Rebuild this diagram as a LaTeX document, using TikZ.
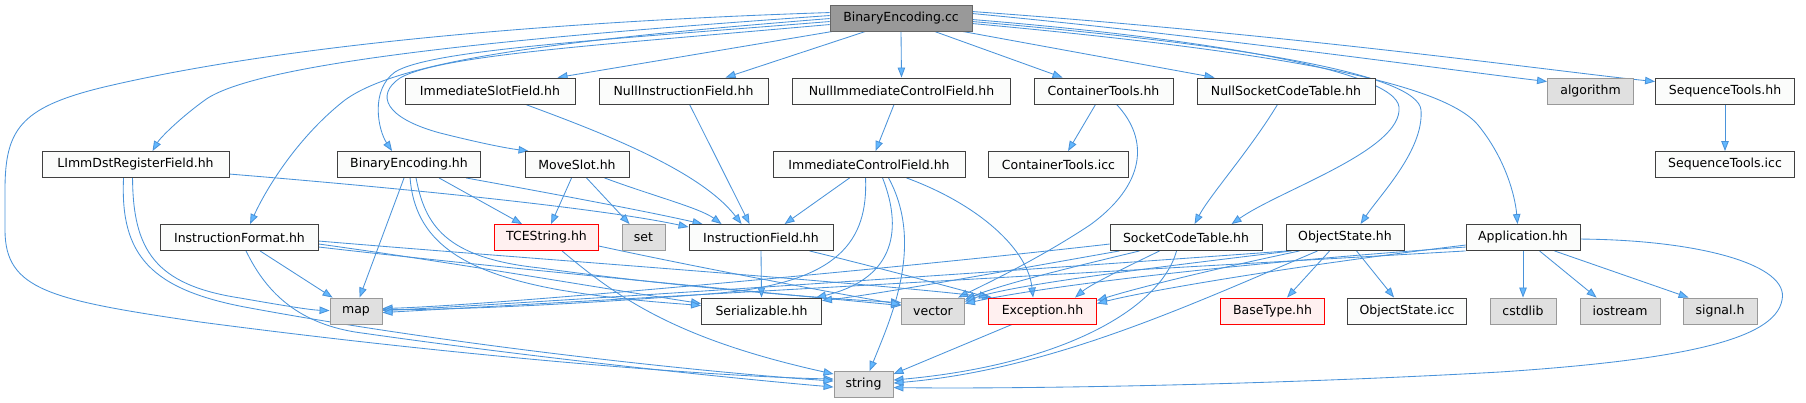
\documentclass[tikz,border=0pt]{standalone}
\usepackage{fontspec}
\setmainfont{DejaVu Sans}
\usetikzlibrary{arrows.meta}
\definecolor{edgec}{HTML}{4A93DA}
\definecolor{arrfill}{HTML}{63B8FF}
\definecolor{mainfill}{HTML}{999999}
\definecolor{maindraw}{HTML}{666666}
\definecolor{nfill}{HTML}{FBFCFB}
\definecolor{ndraw}{HTML}{404040}
\definecolor{sysfill}{HTML}{E0E0E0}
\definecolor{sysdraw}{HTML}{999999}
\definecolor{trfill}{HTML}{FFF0F0}
\definecolor{trdraw}{HTML}{FF0000}
\newcommand{\nfs}{\fontsize{12.5}{15}\selectfont}
\pgfdeclarelayer{bg}
\pgfsetlayers{bg,main}
\tikzset{
  nd/.style={draw=ndraw, fill=nfill, line width=0.9pt, minimum height=26pt, inner sep=0pt, font=\nfs, text=black},
  sys/.style={nd, draw=sysdraw, fill=sysfill},
  trunc/.style={nd, draw=trdraw, fill=trfill},
  mainn/.style={nd, draw=maindraw, fill=mainfill},
  e/.style={draw=edgec, line width=0.85pt, -{Triangle[length=10pt,width=7.5pt,fill=arrfill]}}
}
\begin{document}
\begin{tikzpicture}[x=1pt,y=-1pt]
\useasboundingbox (0,0) rectangle (1806,403);
% nodes
\node[mainn, minimum width=142pt] (main) at (901,18) {BinaryEncoding.cc};
\node[nd, minimum width=170pt] (ISF) at (490,91) {ImmediateSlotField.hh};
\node[nd, minimum width=169pt] (NIF) at (683.5,91) {NullInstructionField.hh};
\node[nd, minimum width=218pt] (NICF) at (901.5,91) {NullImmediateControlField.hh};
\node[nd, minimum width=139pt] (CT) at (1103.5,91) {ContainerTools.hh};
\node[nd, minimum width=178pt] (NSCT) at (1286,91) {NullSocketCodeTable.hh};
\node[sys, minimum width=86pt] (alg) at (1590.5,91) {algorithm};
\node[nd, minimum width=139pt] (STH) at (1725,91) {SequenceTools.hh};
\node[nd, minimum width=187pt] (LImm) at (135.5,164.5) {LImmDstRegisterField.hh};
\node[nd, minimum width=143pt] (BEH) at (409,164.5) {BinaryEncoding.hh};
\node[nd, minimum width=104pt] (MS) at (577,164.5) {MoveSlot.hh};
\node[nd, minimum width=192pt] (ICF) at (869,164.5) {ImmediateControlField.hh};
\node[nd, minimum width=140pt] (CTI) at (1058.5,164.5) {ContainerTools.icc};
\node[nd, minimum width=139pt] (STI) at (1725,164.5) {SequenceTools.icc};
\node[nd, minimum width=158pt] (IFmt) at (239.5,237.5) {InstructionFormat.hh};
\node[trunc, minimum width=104pt] (TCE) at (546.5,237.5) {TCEString.hh};
\node[sys, minimum width=43pt] (set) at (643.5,237.5) {set};
\node[nd, minimum width=144pt] (IF) at (761,237.5) {InstructionField.hh};
\node[nd, minimum width=152pt] (SCT) at (1186,237.5) {SocketCodeTable.hh};
\node[nd, minimum width=118pt] (OS) at (1345,237.5) {ObjectState.hh};
\node[nd, minimum width=114pt] (App) at (1523,237.5) {Application.hh};
\node[sys, minimum width=52pt] (map) at (356,311) {map};
\node[nd, minimum width=120pt] (Ser) at (761.5,311) {Serializable.hh};
\node[sys, minimum width=63pt] (vec) at (933,311) {vector};
\node[trunc, minimum width=108pt] (Exc) at (1042.5,311) {Exception.hh};
\node[trunc, minimum width=104pt] (BT) at (1272.5,311) {BaseType.hh};
\node[nd, minimum width=119pt] (OSI) at (1407,311) {ObjectState.icc};
\node[sys, minimum width=66pt] (cstd) at (1523,311) {cstdlib};
\node[sys, minimum width=80pt] (ios) at (1620,311) {iostream};
\node[sys, minimum width=74pt] (sig) at (1720,311) {signal.h};
\node[sys, minimum width=59pt] (str) at (863.5,384.5) {string};
\begin{pgfonlayer}{bg}
% from BinaryEncoding.cc
\draw[e] ([yshift=-8pt]main.north west) .. controls (600,20) and (300,40) .. (100,88) .. controls (20,108) and (5,130) .. (5,190) -- (5,230) .. controls (5,290) and (50,300) .. (200,322) .. controls (450,355) and (700,376) .. ([yshift=-8pt]str.north west);
\draw[e] ([yshift=-11pt]main.north west) .. controls (550,35) and (260,60) .. (205,100) .. controls (180,118) and (160,138) .. ([xshift=111pt]LImm.north west);
\draw[e] ([yshift=-14pt]main.north west) .. controls (560,40) and (400,60) .. (345,100) .. controls (300,135) and (268,185) .. ([xshift=90pt]IFmt.north west);
\draw[e] ([yshift=-17pt]main.north west) .. controls (600,40) and (430,50) .. (395,72) .. controls (370,90) and (378,130) .. ([xshift=55pt]BEH.north west);
\draw[e] ([yshift=-20pt]main.north west) .. controls (600,45) and (440,55) .. (400,78) .. controls (375,95) and (385,118) .. (440,133) .. controls (480,143) and (505,148) .. ([xshift=4pt]MS.north west);
\draw[e] ([xshift=3pt]main.south west) -- ([xshift=153pt]ISF.north west);
\draw[e] ([xshift=36pt]main.south west) -- ([xshift=127pt]NIF.north west);
\draw[e] (main.south) -- (NICF.north);
\draw[e] ([xshift=105pt]main.south west) -- ([xshift=29pt]CT.north west);
\draw[e] ([xshift=133pt]main.south west) -- ([xshift=18pt]NSCT.north west);
\draw[e] ([yshift=-15pt]main.north east) .. controls (1200,38) and (1395,70) .. (1399,107) .. controls (1403,150) and (1280,190) .. ([xshift=122pt]SCT.north west);
\draw[e] ([yshift=-17pt]main.north east) .. controls (1250,45) and (1418,75) .. (1421,110) .. controls (1424,150) and (1380,195) .. ([xshift=75pt]OS.north west);
\draw[e] ([yshift=-19pt]main.north east) .. controls (1260,50) and (1440,80) .. (1478,125) .. controls (1505,158) and (1515,195) .. ([xshift=52pt]App.north west);
\draw[e] ([yshift=-9pt]main.north east) .. controls (1200,35) and (1450,70) .. ([yshift=-4pt]alg.north west);
\draw[e] ([yshift=-7pt]main.north east) .. controls (1300,35) and (1560,72) .. ([yshift=-4pt]STH.north west);
% second row
\draw[e] ([xshift=102pt]NICF.south west) -- ([xshift=103pt]ICF.north west);
\draw[e] ([xshift=62pt]CT.south west) -- ([xshift=80pt]CTI.north west);
\draw[e] ([xshift=83pt]CT.south west) .. controls (1150,140) and (1145,185) .. (1090,225) .. controls (1040,258) and (990,282) .. ([xshift=57pt]vec.north west);
\draw[e] ([xshift=81pt]NSCT.south west) .. controls (1250,150) and (1210,195) .. ([xshift=85pt]SCT.north west);
\draw[e] (STH.south) -- (STI.north);
\draw[e] ([xshift=121pt]ISF.south west) .. controls (600,132) and (700,170) .. ([xshift=53pt]IF.north west);
\draw[e] ([xshift=91pt]NIF.south west) -- ([xshift=61pt]IF.north west);
% LImmDstRegisterField
\draw[e] ([yshift=-23pt]LImm.north east) .. controls (400,188) and (600,208) .. ([yshift=-3pt]IF.north west);
\draw[e] ([xshift=91pt]LImm.south west) .. controls (133,250) and (155,285) .. (240,298) .. controls (280,305) and (310,310) .. ([yshift=-13pt]map.north west);
\draw[e] ([xshift=82pt]LImm.south west) .. controls (120,255) and (150,290) .. (250,308) .. controls (450,345) and (700,372) .. ([yshift=-10pt]str.north west);
% InstructionFormat
\draw[e] ([xshift=100pt]IFmt.south west) -- ([xshift=3pt]map.north west);
\draw[e] ([xshift=86pt]IFmt.south west) .. controls (265,290) and (295,322) .. (355,332) .. controls (550,360) and (750,380) .. ([yshift=-16pt]str.north west);
\draw[e] ([yshift=-20pt]IFmt.north east) .. controls (450,262) and (600,288) .. ([yshift=-6pt]Ser.north west);
\draw[e] ([yshift=-23pt]IFmt.north east) .. controls (500,268) and (760,292) .. ([yshift=-8pt]vec.north west);
\draw[e] ([yshift=-17pt]IFmt.north east) .. controls (520,258) and (860,282) .. ([xshift=4pt]Exc.north west);
% BinaryEncoding.hh
\draw[e] ([xshift=67pt]BEH.south west) -- ([xshift=30pt]map.north west);
\draw[e] ([xshift=102pt]BEH.south west) -- ([xshift=28pt]TCE.north west);
\draw[e] ([xshift=129pt]BEH.south west) .. controls (560,195) and (650,212) .. ([xshift=14pt]IF.north west);
\draw[e] ([xshift=73pt]BEH.south west) .. controls (415,240) and (460,272) .. (560,290) .. controls (620,300) and (670,303) .. ([yshift=-8pt]Ser.north west);
\draw[e] ([xshift=79pt]BEH.south west) .. controls (425,225) and (445,258) .. (540,268) .. controls (700,290) and (850,300) .. ([yshift=-5pt]vec.north west);
% MoveSlot
\draw[e] ([xshift=47pt]MS.south west) -- ([xshift=57pt]TCE.north west);
\draw[e] ([xshift=62pt]MS.south west) -- ([xshift=8pt]set.north west);
\draw[e] ([xshift=80pt]MS.south west) .. controls (650,195) and (700,208) .. ([xshift=33pt]IF.north west);
% ImmediateControlField
\draw[e] ([xshift=77pt]ICF.south west) -- ([xshift=96pt]IF.north west);
\draw[e] ([xshift=93pt]ICF.south west) .. controls (868,240) and (840,282) .. (720,293) .. controls (600,303) and (460,310) .. ([yshift=-12pt]map.north east);
\draw[e] ([xshift=110pt]ICF.south west) .. controls (905,235) and (890,280) .. ([xshift=115pt]Ser.north west);
\draw[e] ([xshift=116pt]ICF.south west) .. controls (925,245) and (890,320) .. ([xshift=36pt]str.north west);
\draw[e] ([xshift=134pt]ICF.south west) .. controls (980,205) and (1028,250) .. ([xshift=45pt]Exc.north west);
% InstructionField
\draw[e] (IF.south) -- (Ser.north);
\draw[e] ([xshift=121pt]IF.south west) .. controls (880,268) and (950,287) .. ([xshift=1pt]Exc.north west);
% TCEString
\draw[e] ([xshift=68pt]TCE.south west) .. controls (620,300) and (680,340) .. ([yshift=-3pt]str.north west);
\draw[e] ([yshift=-22pt]TCE.north east) .. controls (700,268) and (850,296) .. ([yshift=-7pt]vec.north west);
% SocketCodeTable
\draw[e] ([yshift=-20pt]SCT.north west) .. controls (900,268) and (500,305) .. ([yshift=-11pt]map.north east);
\draw[e] ([xshift=10pt]SCT.south west) .. controls (1000,272) and (880,294) .. ([yshift=-3pt]Ser.north east);
\draw[e] ([xshift=30pt]SCT.south west) .. controls (1060,270) and (1000,285) .. ([yshift=-2pt]vec.north east);
\draw[e] ([xshift=50pt]SCT.south west) .. controls (1120,270) and (1090,285) .. ([xshift=87pt]Exc.north west);
\draw[e] ([xshift=67pt]SCT.south west) .. controls (1160,310) and (1060,365) .. ([yshift=-9pt]str.north east);
% ObjectState
\draw[e] ([xshift=2pt]OS.south west) .. controls (1000,272) and (500,305) .. ([yshift=-13pt]map.north east);
\draw[e] ([xshift=6pt]OS.south west) .. controls (1150,268) and (1010,285) .. ([yshift=-4pt]vec.north east);
\draw[e] ([xshift=14pt]OS.south west) .. controls (1200,272) and (1130,290) .. ([yshift=-3pt]Exc.north east);
\draw[e] ([xshift=32pt]OS.south west) .. controls (1190,305) and (1050,370) .. ([yshift=-12pt]str.north east);
\draw[e] ([xshift=44pt]OS.south west) -- ([xshift=67pt]BT.north west);
\draw[e] ([xshift=71pt]OS.south west) -- ([xshift=47pt]OSI.north west);
% Application
\draw[e] (App.south west) .. controls (1100,272) and (500,306) .. ([yshift=-15pt]map.north east);
\draw[e] ([yshift=-23pt]App.north west) .. controls (1250,262) and (1050,285) .. ([yshift=-6pt]vec.north east);
\draw[e] ([yshift=-21pt]App.north west) .. controls (1300,265) and (1150,290) .. ([yshift=-6pt]Exc.north east);
\draw[e] (App.south) -- (cstd.north);
\draw[e] ([xshift=74pt]App.south west) -- ([xshift=17pt]ios.north west);
\draw[e] ([xshift=89pt]App.south west) -- ([xshift=6pt]sig.north west);
\draw[e] ([yshift=-15pt]App.north east) .. controls (1700,240) and (1790,265) .. (1782,300) .. controls (1775,340) and (1680,360) .. (1500,372) .. controls (1250,386) and (1000,389) .. ([yshift=-16.5pt]str.north east);
% Exception
\draw[e] ([xshift=24pt]Exc.south west) -- ([yshift=-3pt]str.north east);
\end{pgfonlayer}
\end{tikzpicture}
\end{document}
